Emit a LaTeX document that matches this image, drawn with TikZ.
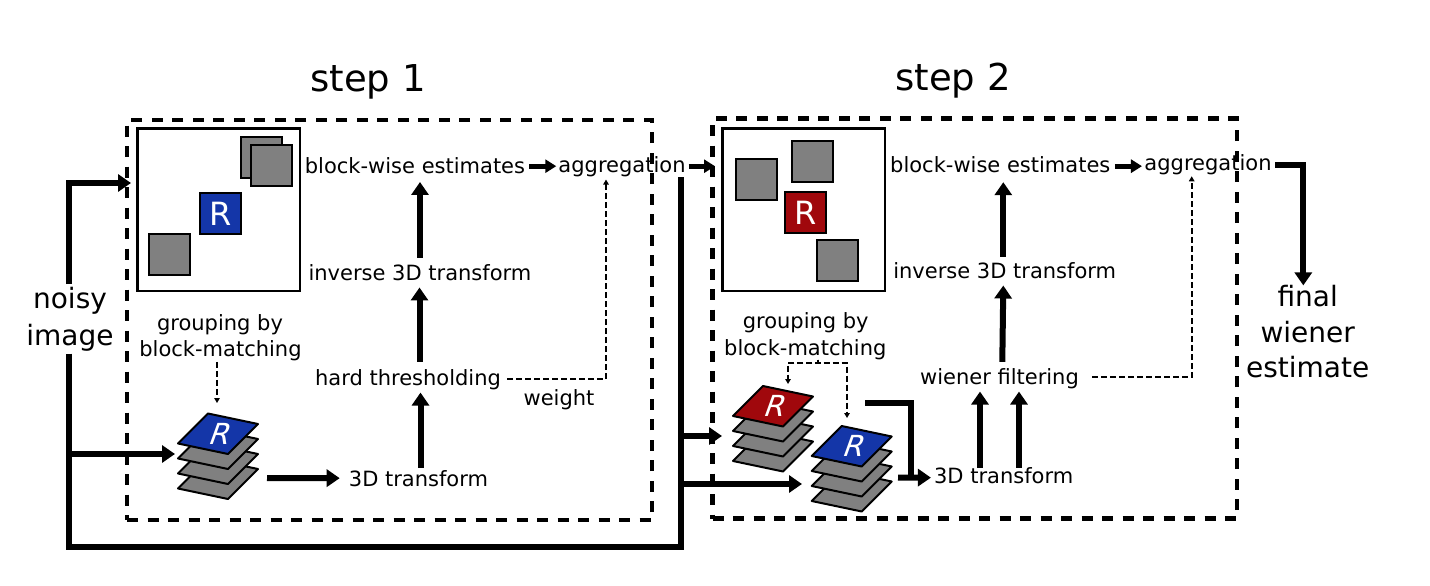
\documentclass[tikz,border=0pt]{standalone}
\usepackage{fontspec}
\setmainfont{DejaVu Sans}
\newfontfamily\slantfont[FakeSlant=0.36]{DejaVu Sans}
\usetikzlibrary{arrows.meta,calc}
\definecolor{rblue}{RGB}{20,54,168}
\definecolor{rred}{RGB}{160,8,12}
\definecolor{bgray}{RGB}{128,128,128}
\begin{document}
\begin{tikzpicture}[x=1pt,y=-1pt,
  lbl/.style={font=\fontsize{21}{26}\selectfont, inner sep=0pt, anchor=base},
  big/.style={font=\fontsize{28}{36}\selectfont, inner sep=0pt, align=center, anchor=north},
  steplbl/.style={font=\fontsize{37}{44}\selectfont, inner sep=0pt, anchor=base},
  stepbox/.style={draw, line width=4.3pt, dash pattern=on 11pt off 9.5pt, inner sep=0pt},
  imgbox/.style={draw, line width=2.5pt, minimum width=162.5pt, minimum height=162.5pt, inner sep=0pt},
  blk/.style={draw, line width=2pt, fill=bgray, minimum size=41pt, inner sep=0pt},
  refblk/.style={blk, text=white, font=\fontsize{32}{32}\selectfont},
  stackR/.style={text=white, font=\slantfont\fontsize{29}{29}\selectfont, inner sep=0pt},
  layer/.style={draw, line width=2pt, line join=round},
  arr/.style={line width=6pt, line join=miter, -{Triangle[length=13pt,width=17pt]}},
  arrs/.style={line width=5pt, -{Triangle[length=11pt,width=13pt]}},
  bigline/.style={line width=6pt, line join=miter},
  wdash/.style={line width=2.2pt, dash pattern=on 6pt off 3pt},
  wdarr/.style={wdash, -{Triangle[length=5pt,width=5.5pt]}}
]
\useasboundingbox (0,0) rectangle (1430,586);

% ---------- titles ----------
\node[steplbl] (t1) at (368,91.7) {step 1};
\node[steplbl] (t2) at (953,90) {step 2};

% ---------- dashed step boxes ----------
\node[stepbox, minimum width=525pt, minimum height=400pt] (s1) at (389.5,320) {};
\node[stepbox, minimum width=524.5pt, minimum height=400pt] (s2) at (974.75,318.5) {};

% ---------- image boxes ----------
\node[imgbox] (img1) at (218.5,209.5) {};
\node[blk] (a1) at (261.5,157.5) {};
\node[blk] (a2) at (271.5,165.5) {};
\node[refblk, fill=rblue] (ref1) at (220.5,213.5) {R};
\node[blk] (a3) at (169,254) {};

\node[imgbox] (img2) at (803.5,209.5) {};
\node[blk] (b1) at (756,179.5) {};
\node[blk] (b2) at (812,161.5) {};
\node[refblk, fill=rred] (ref2) at (805.5,212.5) {R};
\node[blk] (b3) at (837.5,260.5) {};

% ---------- stacks ----------
\foreach \dy in {45,30,15}{
  \filldraw[layer, fill=bgray] (178,443.5+\dy) -- ++(30,-30) -- ++(50,10.5) -- ++(-30,30) -- cycle;
  \filldraw[layer, fill=bgray] (733,416+\dy) -- ++(30,-30) -- ++(50,10.5) -- ++(-30,30) -- cycle;
  \filldraw[layer, fill=bgray] (811.7,456+\dy) -- ++(30,-30) -- ++(50,10.5) -- ++(-30,30) -- cycle;
}
\filldraw[layer, fill=rblue] (178,443.5) -- ++(30,-30) -- ++(50,10.5) -- ++(-30,30) -- cycle;
\filldraw[layer, fill=rred] (733,416) -- ++(30,-30) -- ++(50,10.5) -- ++(-30,30) -- cycle;
\filldraw[layer, fill=rblue] (811.7,456) -- ++(30,-30) -- ++(50,10.5) -- ++(-30,30) -- cycle;
\node[stackR] (sr1) at (218,433.75) {R};
\node[stackR] (sr2) at (773,406.25) {R};
\node[stackR] (sr3) at (851.7,446.25) {R};

% ---------- labels ----------
\node[big] (noisy) at (70,286.7) {noisy\\[1pt]image};
\node[big, font=\fontsize{28}{35.5}\selectfont] (final) at (1307.7,285.4) {final\\wiener\\estimate};

\node[lbl] (bw1) at (415,173) {block-wise estimates};
\node[lbl] (agg1) at (622,172) {aggregation};
\node[lbl] (inv1) at (420,280) {inverse 3D transform};
\node[lbl] (ht1) at (408,385) {hard thresholding};
\node[lbl] (wt1) at (559,405) {weight};
\node[lbl] (tr1) at (418.5,486) {3D transform};
\node[lbl] (grp1a) at (220,330.7) {grouping by};
\node[lbl] (grp1b) at (220.5,356.7) {block-matching};

\node[lbl] (bw2) at (1000.3,172) {block-wise estimates};
\node[lbl] (agg2) at (1208,170) {aggregation};
\node[lbl] (inv2) at (1004.7,278) {inverse 3D transform};
\node[lbl] (wf2) at (999.5,384) {wiener filtering};
\node[lbl] (tr2) at (1003.7,483.5) {3D transform};
\node[lbl] (grp2a) at (805.7,328.3) {grouping by};
\node[lbl] (grp2b) at (805.3,355) {block-matching};

% ---------- coordinates ----------
\coordinate (bl) at (69,547);
\coordinate (br) at (681,547);
\coordinate (trc) at (681,177);
\coordinate (j1) at (69,454);
\coordinate (st1in) at (175,454);
\coordinate (st1out) at (267,478);
\coordinate (st1top) at (217,403);
\coordinate (j2) at (681,436);
\coordinate (rs2in) at (722,436);
\coordinate (j3) at (681,484);
\coordinate (bs2in) at (802,484);
\coordinate (rs2out) at (865,403);
\coordinate (merge) at (911,477.5);
\coordinate (bs2out) at (898,477.5);
\coordinate (brL) at (788,363);
\coordinate (brR) at (847,363);
\coordinate (rtip) at (788,384);
\coordinate (btip) at (847,418);

% ---------- step 1 connectors ----------
\draw[bigline] ($(noisy.south)+(-1,2.5)$) -- (bl) -- (br) -- (trc);
\draw[arr] ($(noisy.north)+(-1,-2.5)$) |- ($(img1.west)+(-5,-26.5)$);
\draw[arr] (j1) -- (st1in);
\draw[arr] (st1out) -- ($(tr1.west)+(-9,0)$);
\draw[arr] ($(tr1.north)+(2,-2)$) -- ($(tr1.north |- ht1.south)+(2,3)$);
\draw[arr] ($(ht1.north -| tr1.north)+(1,-7)$) -- ($(inv1.south -| tr1.north)+(1,7)$);
\draw[arr] ($(inv1.north)+(0,-6)$) -- ($(inv1.north |- bw1.south)+(0,8.5)$);
\draw[arrs] ($(bw1.east)+(4,1)$) -- ($(agg1.west |- bw1.east)+(-2,1)$);
\draw[arrs] ($(agg1.east)+(3,0)$) -- ($(img2.west |- agg1.east)+(-6,0)$);
\draw[wdarr] ($(ht1.east)+(6,0)$) -| ($(agg1.south)+(-16,3)$);
\draw[wdarr] ($(grp1b.south)+(-3.5,0.5)$) -- (st1top);

% ---------- step 2 connectors ----------
\draw[arr] (j2) -- (rs2in);
\draw[arr] (j3) -- (bs2in);
\draw[wdarr] ($(grp2b.south)+(12.7,0)$) |- (brL) -- (rtip);
\draw[wdarr] ($(grp2b.south)+(12.7,0)$) |- (brR) -- (btip);
\draw[bigline] (rs2out) -| (merge);
\draw[arr] (bs2out) -- ($(tr2.west)+(-3,2)$);
\draw[arr] ($(tr2.north)+(-23.7,0.5)$) -- ($(tr2.north |- wf2.south)+(-23.7,3)$);
\draw[arr] ($(tr2.north)+(15.3,0.5)$) -- ($(tr2.north |- wf2.south)+(15.3,3)$);
\draw[arr] ($(wf2.north -| inv2.south)+(-2.4,-6)$) -- ($(inv2.south)+(-1.4,7)$);
\draw[arr] ($(inv2.north)+(-1.4,-5)$) -- ($(inv2.north |- bw2.south)+(-1.4,9.7)$);
\draw[arrs] ($(bw2.east)+(4.3,2)$) -- ($(agg2.west |- bw2.east)+(-2.3,2)$);
\draw[wdarr] ($(wf2.east)+(13,-1)$) -| ($(agg2.south)+(-16.3,1.7)$);
\draw[arr] ($(agg2.east)+(3.3,1)$) -| ($(final.north)+(-4.4,0)$);
\end{tikzpicture}
\end{document}
